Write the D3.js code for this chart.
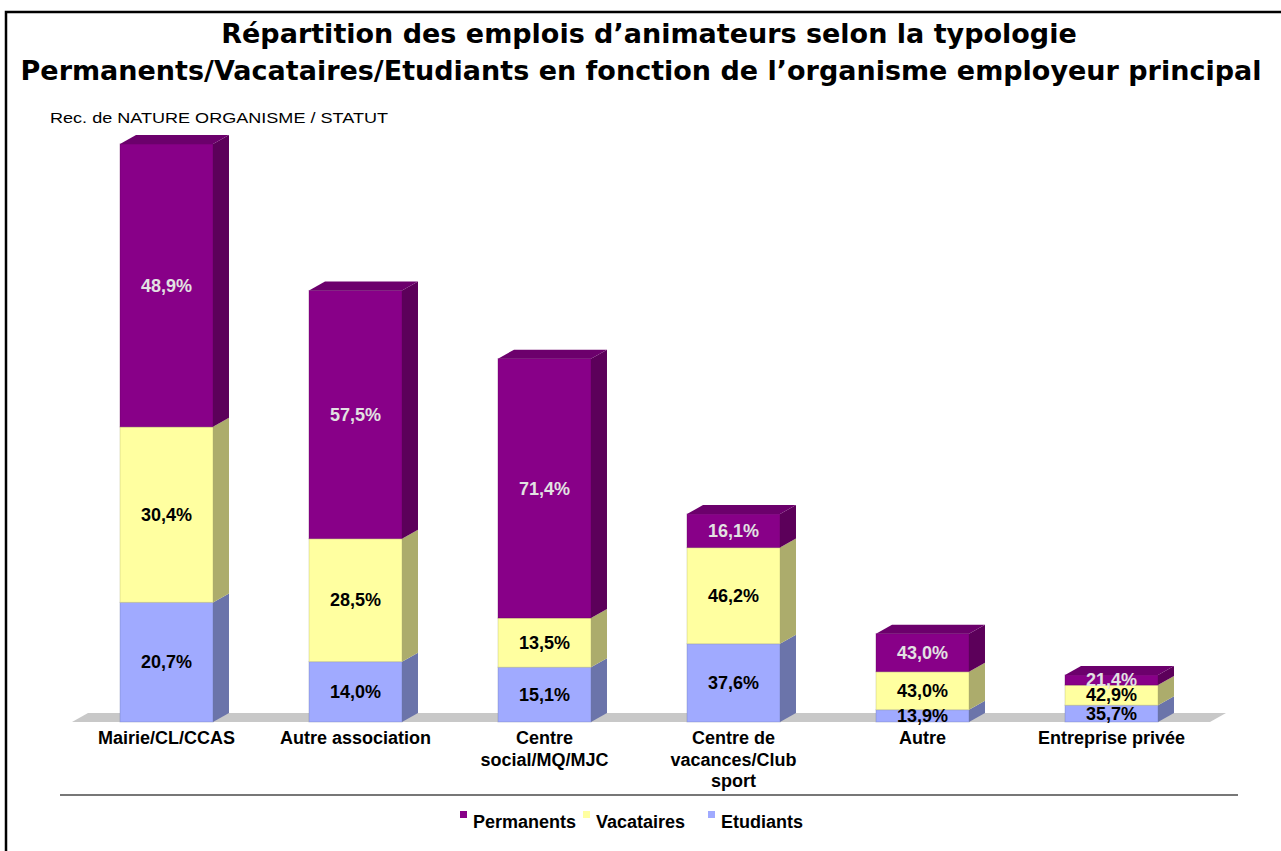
<!DOCTYPE html>
<html>
  <head>
    <meta charset="utf-8">
    <title>Répartition des emplois d'animateurs</title>
    <style>
      body { margin: 0; background-color: #ffffff; }
      text.title { font: bold 27px "DejaVu Sans"; }
      text.sub { font: 15px "Liberation Sans"; }
      text.pct, text.cat, g.legend text { font: bold 18px "Liberation Sans"; }
    </style>
  </head>
  <body>
    <svg id="svg1" width="1281" height="851"></svg>

    <script src="https://cdnjs.cloudflare.com/ajax/libs/d3/7.8.5/d3.min.js"></script>
    <script type="text/javascript">
      // Data (counts per status, labels are shares of each column)
      var categories = ["Mairie/CL/CCAS", "Autre association", "Centre\nsocial/MQ/MJC",
                        "Centre de\nvacances/Club\nsport", "Autre", "Entreprise privée"];
      var series = ["Etudiants", "Vacataires", "Permanents"];
      var etudiants  = [107, 54, 49, 70, 11, 15];
      var vacataires = [157, 110, 44, 86, 34, 18];
      var permanents = [253, 222, 232, 30, 34, 9];
      var legendOrder = ["Permanents", "Vacataires", "Etudiants"];

      var colors = {
        Permanents: {front: "#880088", side: "#5c005a", top: "#6c006c", text: "#e2e2e2"},
        Vacataires: {front: "#ffffa0", side: "#acac6c", top: "#d8d88a", text: "#000"},
        Etudiants:  {front: "#a0aaff", side: "#6b74aa", top: "#8790d8", text: "#000"}
      };

      var svg = d3.select("#svg1");
      var depthX = 16, depthY = 9;
      var floorY = 722;

      // frame
      svg.append("path")
        .attr("d", "M6,851 V12 H1281")
        .attr("fill", "none")
        .attr("stroke", "#000")
        .attr("stroke-width", 2.5);

      // titles
      svg.append("text").classed("title", true)
        .attr("x", 649).attr("y", 43).attr("text-anchor", "middle")
        .text("Répartition des emplois d’animateurs selon la typologie");
      svg.append("text").classed("title", true)
        .attr("x", 641).attr("y", 80).attr("text-anchor", "middle")
        .text("Permanents/Vacataires/Etudiants en fonction de l’organisme employeur principal");
      svg.append("text").classed("sub", true)
        .attr("x", 50).attr("y", 123)
        .attr("textLength", 338)
        .attr("lengthAdjust", "spacingAndGlyphs")
        .text("Rec. de NATURE ORGANISME / STATUT");

      var x = d3.scaleBand()
        .domain(categories)
        .range([72, 1206])
        .paddingInner(0.508)
        .paddingOuter(0.254);

      var y = d3.scaleLinear()
        .domain([0, 517])
        .range([floorY, 144]);

      // floor
      var fx0 = x.range()[0], fx1 = x.range()[1] + 4;
      svg.append("path")
        .attr("d", "M" + fx0 + "," + floorY + " L" + (fx0 + depthX) + "," + (floorY - depthY) +
                   " L" + (fx1 + depthX) + "," + (floorY - depthY) + " L" + fx1 + "," + floorY + " Z")
        .attr("fill", "#c8c8c8");

      // stack the counts
      var rows = categories.map(function(c, i) {
        return {cat: c, Etudiants: etudiants[i], Vacataires: vacataires[i], Permanents: permanents[i]};
      });
      var stacked = d3.stack().keys(series)(rows);

      var bw = x.bandwidth();
      var bars = svg.append("g");

      stacked.forEach(function(layer, li) {
        var key = layer.key;
        var col = colors[key];
        var g = bars.append("g").classed("layer", true);

        // side face
        g.selectAll("path.side")
          .data(layer)
          .enter()
          .append("path")
          .attr("d", function(d) {
            var x1 = x(d.data.cat) + bw, y0 = y(d[0]), y1 = y(d[1]);
            return "M" + x1 + "," + y0 + " L" + (x1 + depthX) + "," + (y0 - depthY) +
                   " L" + (x1 + depthX) + "," + (y1 - depthY) + " L" + x1 + "," + y1 + " Z";
          })
          .attr("fill", col.side);

        // front face
        g.selectAll("rect.front")
          .data(layer)
          .enter()
          .append("rect")
          .attr("x", function(d) { return x(d.data.cat); })
          .attr("y", function(d) { return y(d[1]); })
          .attr("width", bw)
          .attr("height", function(d) { return y(d[0]) - y(d[1]); })
          .attr("fill", col.front)
          .attr("stroke", col.side)
          .attr("stroke-opacity", 0.35)
          .attr("stroke-width", 1);

        // top face only on the last layer
        if (li === stacked.length - 1) {
          g.selectAll("path.top")
            .data(layer)
            .enter()
            .append("path")
            .attr("d", function(d) {
              var x0 = x(d.data.cat), y1 = y(d[1]);
              return "M" + x0 + "," + y1 + " L" + (x0 + depthX) + "," + (y1 - depthY) +
                     " L" + (x0 + bw + depthX) + "," + (y1 - depthY) + " L" + (x0 + bw) + "," + y1 + " Z";
            })
            .attr("fill", col.top);
        }
      });

      // percentage labels
      var fmt = d3.format(".1f");
      stacked.forEach(function(layer) {
        var col = colors[layer.key];
        svg.append("g").selectAll("text")
          .data(layer)
          .enter()
          .append("text")
          .classed("pct", true)
          .attr("x", function(d) { return x(d.data.cat) + bw / 2; })
          .attr("y", function(d) { return (y(d[0]) + y(d[1])) / 2; })
          .attr("dy", "0.35em")
          .attr("text-anchor", "middle")
          .attr("fill", col.text)
          .text(function(d) {
            var total = d.data.Etudiants + d.data.Vacataires + d.data.Permanents;
            return fmt(100 * (d[1] - d[0]) / total).replace(".", ",") + "%";
          });
      });

      // category labels
      var cats = svg.append("g");
      categories.forEach(function(c) {
        var t = cats.append("text")
          .classed("cat", true)
          .attr("text-anchor", "middle")
          .attr("x", x(c) + bw / 2)
          .attr("y", 744);
        c.split("\n").forEach(function(line, i) {
          t.append("tspan")
            .attr("x", x(c) + bw / 2)
            .attr("dy", i === 0 ? 0 : 21.5)
            .text(line);
        });
      });

      // rule above legend
      svg.append("line")
        .attr("x1", 60).attr("x2", 1238)
        .attr("y1", 795).attr("y2", 795)
        .attr("stroke", "#777")
        .attr("stroke-width", 2);

      // legend
      var legendX = {Permanents: 460, Vacataires: 583, Etudiants: 708};
      var legend = svg.append("g").classed("legend", true);
      legendOrder.forEach(function(k) {
        legend.append("rect")
          .attr("x", legendX[k]).attr("y", 811)
          .attr("width", 7).attr("height", 7)
          .attr("fill", colors[k].front);
        legend.append("text")
          .attr("x", legendX[k] + 13).attr("y", 828)
          .text(k);
      });
    </script>
  </body>
</html>
